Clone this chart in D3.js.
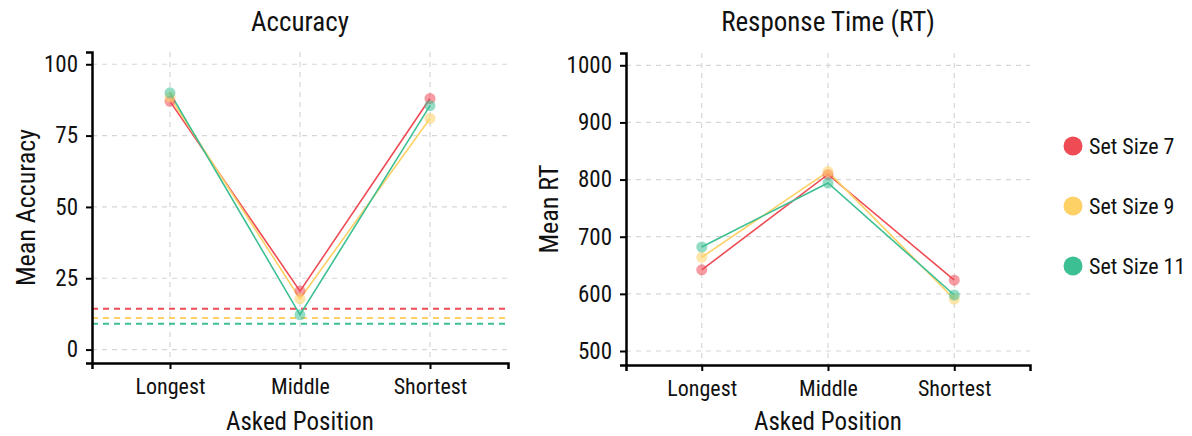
<!doctype html>
<html>

<head>
  <meta charset="utf-8">
  <title>accuracy and response time</title>
  <style>
    body {
      margin: 0;
      background: #fff;
    }

    svg text {
      font-family: "Roboto Condensed", "Liberation Sans Narrow", "DejaVu Sans Condensed", sans-serif;
      fill: #111;
    }
  </style>
</head>

<body>
  <svg id="chart" width="1192" height="436"></svg>
  <script src="https://d3js.org/d3.v7.min.js"></script>
  <script>
    const positions = ['Longest', 'Middle', 'Shortest'];
    const setSizes = ['Set Size 7', 'Set Size 9', 'Set Size 11'];
    const colors = ['#ee4b55', '#fdd166', '#3dbf94'];

    // mean accuracy (%) per set size, in order of positions
    const accuracy7 = [87, 20.5, 88];
    const accuracy9 = [88.5, 17.8, 81];
    const accuracy11 = [90, 12.2, 85.5];
    // chance level = 100 / set size
    const chance = [100 / 7, 100 / 9, 100 / 11];

    // mean RT (ms)
    const rt7 = [642, 809, 624];
    const rt9 = [664, 814, 591];
    const rt11 = [682, 794, 598];

    const accTicks = [0, 25, 50, 75, 100];
    const rtTicks = [500, 600, 700, 800, 900, 1000];

    const svg = d3.select('#chart');

    const panel = (opt) => {
      const g = svg.append('g');
      const x = d3.scalePoint().domain(positions).range([opt.x0, opt.x1]).padding(0.6);
      const y = d3.scaleLinear().domain(opt.domain).range([opt.y1, opt.y0]);

      // grid
      g.selectAll('.hg').data(opt.ticks).join('line')
        .attr('x1', opt.x0).attr('x2', opt.x1)
        .attr('y1', d => y(d)).attr('y2', d => y(d))
        .attr('stroke', '#d6d6d6').attr('stroke-width', 1.2).attr('stroke-dasharray', '5,5');
      g.selectAll('.vg').data(positions).join('line')
        .attr('x1', d => x(d)).attr('x2', d => x(d))
        .attr('y1', opt.y0).attr('y2', opt.y1)
        .attr('stroke', '#d6d6d6').attr('stroke-width', 1.2).attr('stroke-dasharray', '5,5');

      // chance lines
      if (opt.hlines) {
        g.selectAll('.hl').data(opt.hlines).join('line')
          .attr('x1', opt.x0).attr('x2', opt.x1)
          .attr('y1', d => y(d)).attr('y2', d => y(d))
          .attr('stroke', (d, i) => colors[i]).attr('stroke-width', 2).attr('stroke-dasharray', '6,5');
      }

      // axes
      const ax = g.append('g').attr('transform', `translate(0,${opt.y1})`)
        .call(d3.axisBottom(x).tickSize(6).tickPadding(9));
      const ay = g.append('g').attr('transform', `translate(${opt.x0},0)`)
        .call(d3.axisLeft(y).tickValues(opt.ticks).tickFormat(d3.format('d')).tickSize(6).tickPadding(8));
      [ax, ay].forEach(a => {
        a.select('.domain').attr('stroke', '#000').attr('stroke-width', 2.5);
        a.selectAll('.tick line').attr('stroke', '#000').attr('stroke-width', 2);
        a.selectAll('.tick text').attr('font-size', 23).attr('fill', '#222')
          .style('font-family', '"Roboto Condensed", "Liberation Sans Narrow", sans-serif');
      });
      ax.selectAll('.tick text').attr('font-size', 22);

      // series
      const line = d3.line().x((d, i) => x(positions[i])).y(d => y(d));
      opt.series.forEach((s, k) => {
        g.append('path').datum(s).attr('d', line)
          .attr('fill', 'none').attr('stroke', colors[k]).attr('stroke-width', 1.6);
      });
      opt.series.forEach((s, k) => {
        g.selectAll(null).data(s).join('circle')
          .attr('cx', (d, i) => x(positions[i])).attr('cy', d => y(d)).attr('r', 5.5)
          .attr('fill', colors[k]).attr('fill-opacity', 0.55);
      });

      // titles
      g.append('text').attr('x', (opt.x0 + opt.x1) / 2).attr('y', 31)
        .attr('text-anchor', 'middle').attr('font-size', 27).text(opt.title);
      g.append('text').attr('x', (opt.x0 + opt.x1) / 2).attr('y', 430)
        .attr('text-anchor', 'middle').attr('font-size', 25).text('Asked Position');
      g.append('text')
        .attr('transform', `translate(${opt.labX},${(opt.y0 + opt.y1) / 2}) rotate(-90)`)
        .attr('text-anchor', 'middle').attr('font-size', 26).text(opt.ylab);
    };

    panel({
      x0: 92, x1: 508, y0: 52, y1: 363,
      domain: [-4.7, 104.3], ticks: accTicks,
      series: [accuracy7, accuracy9, accuracy11], hlines: chance,
      title: 'Accuracy', ylab: 'Mean Accuracy', labX: 35
    });

    panel({
      x0: 626, x1: 1030, y0: 53, y1: 365,
      domain: [475.5, 1021.5], ticks: rtTicks,
      series: [rt7, rt9, rt11],
      title: 'Response Time (RT)', ylab: 'Mean RT', labX: 558
    });

    // legend
    const legend = svg.append('g').attr('transform', 'translate(1073,146)');
    legend.selectAll('circle').data(setSizes).join('circle')
      .attr('cx', 0).attr('cy', (d, i) => i * 60).attr('r', 9.5)
      .attr('fill', (d, i) => colors[i]);
    legend.selectAll('text').data(setSizes).join('text')
      .attr('x', 16).attr('y', (d, i) => i * 60).attr('dy', '0.36em')
      .attr('font-size', 22).text(d => d);
  </script>
</body>

</html>
